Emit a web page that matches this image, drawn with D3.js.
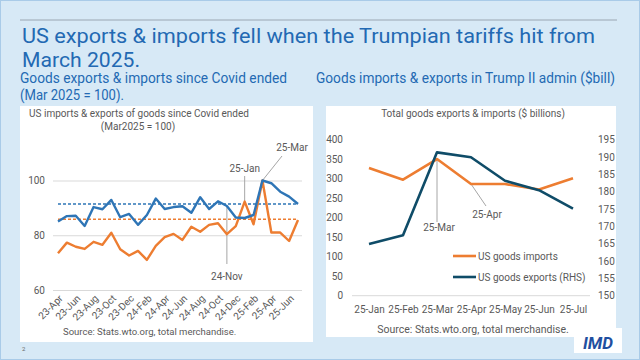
<!DOCTYPE html>
<html><head><meta charset="utf-8">
<script src="https://cdn.jsdelivr.net/npm/d3@7"></script>
<style>
html,body{margin:0;padding:0;background:#d7e9f6;}
svg{display:block;}
text{font-family:Roboto,"Noto Sans",sans-serif;}
</style></head><body>
<svg id="c" width="640" height="360"></svg>
<script>
// ---------- data ----------
const leftMonths = ["23-Apr","23-May","23-Jun","23-Jul","23-Aug","23-Sep","23-Oct","23-Nov","23-Dec",
  "24-Jan","24-Feb","24-Mar","24-Apr","24-May","24-Jun","24-Jul","24-Aug","24-Sep","24-Oct","24-Nov","24-Dec",
  "25-Jan","25-Feb","25-Mar","25-Apr","25-May","25-Jun","25-Jul"];
const exportsIdx = [85.0,87.0,87.1,83.4,90.3,89.5,92.9,86.6,87.8,83.8,87.4,93.4,89.6,90.3,90.6,88.2,93.9,89.6,92.4,90.7,86.5,86.3,87.4,100,99.0,95.9,94.1,91.4];
const importsIdx = [73.4,77.3,75.8,75.0,77.6,76.5,80.9,74.9,72.6,74.3,71.0,76.1,79.3,80.5,78.3,83.1,81.3,83.8,84.4,80.4,83.3,92.3,84.0,100,81.0,81.0,77.9,85.6];
const exportsAvg = 91.4;
const importsAvg = 85.8;
const leftTickLabels = ["23-Apr","23-Jun","23-Aug","23-Oct","23-Dec","24-Feb","24-Apr","24-Jun","24-Aug","24-Oct","24-Dec","25-Feb","25-Apr","25-Jun"];
const leftYTicks = [60,80,100];

const rightMonths = ["25-Jan","25-Feb","25-Mar","25-Apr","25-May","25-Jun","25-Jul"];
const goodsImports = [327,297,350,286,286,272,301];   // $bn, left axis
const goodsExports = [164.9,167.4,191.3,189.9,183.1,180.4,175.1]; // $bn, right axis
const rightLeftTicks = [0,50,100,150,200,250,300,350,400];
const rightRightTicks = [150,155,160,165,170,175,180,185,190,195];

// ---------- drawing ----------
const svg = d3.select("#c");
const ORANGE = "#ed7d31", BLUE = "#2e75b6", TEAL = "#0f4c68", GRAY = "#595959", TITLE = "#2369b3";

svg.append("rect").attr("x",0.5).attr("y",0.5).attr("width",639).attr("height",359)
  .attr("fill","#d7e9f6").attr("stroke","#a9cbe8");
svg.append("line").attr("x1",20).attr("x2",617).attr("y1",20).attr("y2",20).attr("stroke","#9aa6b2").attr("stroke-width",1);

svg.append("text").attr("x",22).attr("y",43).attr("font-size",20.5).attr("fill",TITLE)
  .attr("textLength",573).attr("lengthAdjust","spacingAndGlyphs")
  .text("US exports & imports fell when the Trumpian tariffs hit from");
svg.append("text").attr("x",22).attr("y",66.5).attr("font-size",20.5).attr("fill",TITLE)
  .attr("textLength",118).attr("lengthAdjust","spacingAndGlyphs").text("March 2025.");
svg.append("text").attr("x",20).attr("y",83).attr("font-size",14).attr("fill",TITLE)
  .attr("textLength",267).attr("lengthAdjust","spacingAndGlyphs").text("Goods exports & imports since Covid ended");
svg.append("text").attr("x",20).attr("y",100).attr("font-size",14).attr("fill",TITLE)
  .attr("textLength",104).attr("lengthAdjust","spacingAndGlyphs").text("(Mar 2025 = 100).");
svg.append("text").attr("x",316).attr("y",83).attr("font-size",14).attr("fill",TITLE)
  .attr("textLength",299).attr("lengthAdjust","spacingAndGlyphs").text("Goods imports & exports in Trump II admin ($bill)");

// panels
svg.append("rect").attr("x",20).attr("y",106).attr("width",293).attr("height",236).attr("fill","#fff");
svg.append("rect").attr("x",326).attr("y",106).attr("width",290).attr("height",231).attr("fill","#fff");
svg.append("text").attr("x",22).attr("y",351).attr("font-size",6).attr("fill","#666").text("2");

// ---- left chart ----
const L = svg.append("g");
const xL = d3.scalePoint().domain(leftMonths).range([58,298]);
const yL = d3.scaleLinear().domain([60,100]).range([290,180.5]);

L.append("text").attr("x",139).attr("y",117).attr("text-anchor","middle").attr("font-size",10).attr("fill",GRAY)
  .text("US imports & exports of goods since Covid ended");
L.append("text").attr("x",138).attr("y",130).attr("text-anchor","middle").attr("font-size",10).attr("fill",GRAY)
  .text("(Mar2025 = 100)");

const gyL = L.append("g").attr("transform","translate(53,0)")
  .call(d3.axisLeft(yL).tickValues(leftYTicks).tickSize(-249).tickPadding(8));
gyL.select(".domain").remove();
gyL.selectAll(".tick line").attr("stroke","#d9d9d9");
gyL.selectAll(".tick text").attr("font-size",10).attr("fill",GRAY).attr("font-family","Roboto");

const gxL = L.append("g").attr("transform","translate(0,290)")
  .call(d3.axisBottom(xL).tickValues(leftTickLabels).tickSize(0).tickPadding(0));
gxL.select(".domain").remove();
gxL.selectAll(".tick text").attr("font-size",10).attr("fill",GRAY).attr("font-family","Roboto")
  .attr("text-anchor","end").attr("dy",0).attr("transform","translate(5,9) rotate(-45)");

// dashed averages
L.append("line").attr("x1",xL(leftMonths[0])).attr("x2",xL(leftMonths[leftMonths.length-1]))
  .attr("y1",yL(exportsAvg)).attr("y2",yL(exportsAvg)).attr("stroke",BLUE).attr("stroke-width",1.5).attr("stroke-dasharray","3,2");
L.append("line").attr("x1",xL(leftMonths[0])).attr("x2",xL(leftMonths[leftMonths.length-1]))
  .attr("y1",yL(importsAvg)).attr("y2",yL(importsAvg)).attr("stroke",ORANGE).attr("stroke-width",1.5).attr("stroke-dasharray","3,2");

// annotation leader lines
const annoL = [
  {m:"24-Nov", v:exportsIdx[19], lx:xL("24-Nov"), ly:264, label:"24-Nov", tx:xL("24-Nov"), ty:280},
  {m:"25-Jan", v:importsIdx[21], lx:xL("25-Jan"), ly:176, label:"25-Jan", tx:xL("25-Jan"), ty:172},
  {m:"25-Mar", v:exportsIdx[23], lx:282, ly:156, label:"25-Mar", tx:292, ty:151}
];
annoL.forEach(a=>{
  L.append("line").attr("x1",xL(a.m)).attr("y1",yL(a.v)).attr("x2",a.lx).attr("y2",a.ly).attr("stroke","#a6a6a6").attr("stroke-width",1);
  L.append("text").attr("x",a.tx).attr("y",a.ty).attr("text-anchor","middle").attr("font-size",10).attr("fill",GRAY).text(a.label);
});

const lineL = d3.line().x((d,i)=>xL(leftMonths[i])).y(d=>yL(d));
L.append("path").datum(importsIdx).attr("d",lineL).attr("fill","none").attr("stroke",ORANGE).attr("stroke-width",2.4).attr("stroke-linejoin","round");
L.append("path").datum(exportsIdx).attr("d",lineL).attr("fill","none").attr("stroke",BLUE).attr("stroke-width",2.4).attr("stroke-linejoin","round");

L.append("text").attr("x",63).attr("y",335).attr("font-size",9.5).attr("fill",GRAY).text("Source: Stats.wto.org, total merchandise.");

// ---- right chart ----
const R = svg.append("g");
const xR = d3.scalePoint().domain(rightMonths).range([369,573]);
const yRL = d3.scaleLinear().domain([0,400]).range([295.7,139.5]);
const yRR = d3.scaleLinear().domain([150,195]).range([295.7,139.5]);

R.append("text").attr("x",473).attr("y",117).attr("text-anchor","middle").attr("font-size",10).attr("fill",GRAY)
  .text("Total goods exports & imports ($ billions)");

const gyRL = R.append("g").attr("transform","translate(353,0)")
  .call(d3.axisLeft(yRL).tickValues(rightLeftTicks).tickSize(0).tickPadding(10));
gyRL.select(".domain").remove();
gyRL.selectAll(".tick text").attr("font-size",10).attr("fill",GRAY).attr("font-family","Roboto");

const gyRR = R.append("g").attr("transform","translate(588,0)")
  .call(d3.axisRight(yRR).tickValues(rightRightTicks).tickSize(0).tickPadding(10));
gyRR.select(".domain").remove();
gyRR.selectAll(".tick text").attr("font-size",10).attr("fill",GRAY).attr("font-family","Roboto");

R.append("line").attr("x1",352).attr("x2",590).attr("y1",yRL(0)).attr("y2",yRL(0)).attr("stroke","#d9d9d9");

const gxR = R.append("g").attr("transform","translate(0,"+yRL(0)+")")
  .call(d3.axisBottom(xR).tickSize(0).tickPadding(10));
gxR.select(".domain").remove();
gxR.selectAll(".tick text").attr("font-size",10).attr("fill",GRAY).attr("font-family","Roboto");

// annotations
R.append("line").attr("x1",xR("25-Mar")).attr("y1",yRL(goodsImports[2])).attr("x2",xR("25-Mar")).attr("y2",222).attr("stroke","#a6a6a6");
R.append("text").attr("x",xR("25-Mar")+2).attr("y",231).attr("text-anchor","middle").attr("font-size",10).attr("fill",GRAY).text("25-Mar");
R.append("line").attr("x1",xR("25-Apr")).attr("y1",yRL(goodsImports[3])).attr("x2",486).attr("y2",206).attr("stroke","#a6a6a6");
R.append("text").attr("x",487).attr("y",218).attr("text-anchor","middle").attr("font-size",10).attr("fill",GRAY).text("25-Apr");

const lineRI = d3.line().x((d,i)=>xR(rightMonths[i])).y(d=>yRL(d));
const lineRE = d3.line().x((d,i)=>xR(rightMonths[i])).y(d=>yRR(d));
R.append("path").datum(goodsImports).attr("d",lineRI).attr("fill","none").attr("stroke",ORANGE).attr("stroke-width",2.6).attr("stroke-linejoin","round");
R.append("path").datum(goodsExports).attr("d",lineRE).attr("fill","none").attr("stroke",TEAL).attr("stroke-width",2.6).attr("stroke-linejoin","round");

// legend
const leg = [{t:"US goods imports", c:ORANGE, y:256},{t:"US goods exports (RHS)", c:TEAL, y:277}];
leg.forEach(l=>{
  R.append("line").attr("x1",453).attr("x2",476).attr("y1",l.y).attr("y2",l.y).attr("stroke",l.c).attr("stroke-width",2.6);
  R.append("text").attr("x",478).attr("y",l.y+3.5).attr("font-size",10).attr("fill",GRAY).text(l.t);
});

R.append("text").attr("x",473).attr("y",333).attr("text-anchor","middle").attr("font-size",10.5).attr("fill",GRAY)
  .text("Source: Stats.wto.org, total merchandise.");

// logo
svg.append("rect").attr("x",574).attr("y",328).attr("width",48).attr("height",25).attr("fill","#fff");
svg.append("text").attr("x",598).attr("y",349).attr("text-anchor","middle").attr("font-size",17).attr("font-weight","bold")
  .attr("font-style","italic").attr("fill","#1f4fa0").attr("font-family","DejaVu Serif").text("IMD");
</script>
</body></html>
